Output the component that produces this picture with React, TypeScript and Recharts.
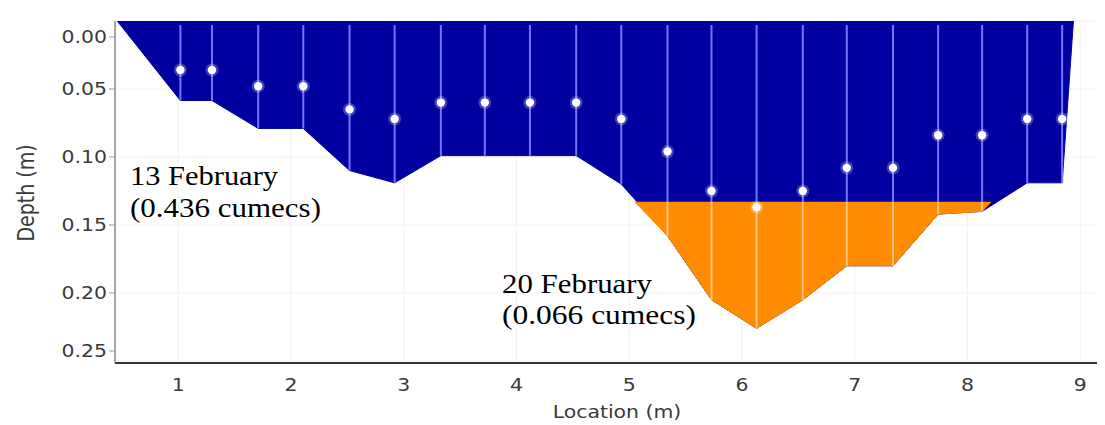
import React from 'react';
import { ComposedChart, Area, Scatter, XAxis, YAxis, ReferenceLine, CartesianGrid } from 'recharts';

// Bed profile on 13 February (location m, depth m)
const bedLocations = [0.46, 1.02, 1.30, 1.71, 2.11, 2.52, 2.92, 3.33, 3.72, 4.12, 4.53, 4.93, 5.34, 5.73, 6.13, 6.54, 6.93, 7.34, 7.74, 8.13, 8.53, 8.84, 8.94];
const bedDepths = [0, 0.0585, 0.0585, 0.079, 0.079, 0.110, 0.119, 0.099, 0.099, 0.099, 0.099, 0.120, 0.158, 0.205, 0.226, 0.205, 0.180, 0.180, 0.142, 0.140, 0.119, 0.119, 0];

// 20 February wetted section
const feb20Surface = 0.133;
const feb20Locations = [5.05, 5.34, 5.73, 6.13, 6.54, 6.93, 7.34, 7.74, 8.13, 8.21];
const feb20Depths = [0.133, 0.158, 0.205, 0.226, 0.205, 0.180, 0.180, 0.142, 0.140, 0.133];

// Measurement verticals and velocity point depths
const verticalLocations = [1.02, 1.30, 1.71, 2.11, 2.52, 2.92, 3.33, 3.72, 4.12, 4.53, 4.93, 5.34, 5.73, 6.13, 6.54, 6.93, 7.34, 7.74, 8.13, 8.53, 8.84];
const verticalBedDepths = [0.0585, 0.0585, 0.079, 0.079, 0.110, 0.119, 0.099, 0.099, 0.099, 0.099, 0.120, 0.158, 0.205, 0.226, 0.205, 0.180, 0.180, 0.142, 0.140, 0.119, 0.119];
const pointDepths = [0.036, 0.036, 0.048, 0.048, 0.065, 0.072, 0.060, 0.060, 0.060, 0.060, 0.072, 0.096, 0.125, 0.137, 0.125, 0.108, 0.108, 0.084, 0.084, 0.072, 0.072];

const xTicks = [1, 2, 3, 4, 5, 6, 7, 8, 9];
const yTicks = [0, 0.05, 0.10, 0.15, 0.20, 0.25];

const annotations = [
  { lines: ['13 February', '(0.436 cumecs)'], widths: [148, 191], x: 122, y: 177, gap: 32 },
  { lines: ['20 February', '(0.066 cumecs)'], widths: [150, 194], x: 494, y: 285, gap: 31 },
];

const W = 1097;
const H = 417;
const PLOT_LEFT = 107;
const AXIS_FONT = 'DejaVu Sans, Verdana, sans-serif';
const STRETCH = 1.2;
const TEXT_COLOR = '#3a3a3a';

const profile13 = bedLocations.map((loc, i) => ({ loc, depth: bedDepths[i] }));
const profile20 = feb20Locations.map((loc, i) => ({ loc, depth: feb20Depths[i] }));
const points = verticalLocations.map((loc, i) => ({ loc, depth: pointDepths[i] }));

const YTick = (props: any) => {
  const { y, payload, index } = props;
  const v = payload.value as number;
  const adj = index === 0 ? 16 : v >= 0.25 ? -10 : 0;
  const yy = y + adj;
  return (
    <g>
      <line x1={PLOT_LEFT - 6} x2={PLOT_LEFT} y1={yy} y2={yy} stroke="#999" strokeWidth={1} />
      <text
        transform={`translate(${PLOT_LEFT - 8},${yy}) scale(${STRETCH},1)`}
        textAnchor="end"
        dy="0.36em"
        fontSize={17}
        fontFamily={AXIS_FONT}
        fill={TEXT_COLOR}
      >
        {v.toFixed(2)}
      </text>
    </g>
  );
};

const XTick = (props: any) => {
  const { x, payload } = props;
  return (
    <text
      transform={`translate(${x},377) scale(${STRETCH},1)`}
      textAnchor="middle"
      dy="0.36em"
      fontSize={17}
      fontFamily={AXIS_FONT}
      fill={TEXT_COLOR}
    >
      {payload.value}
    </text>
  );
};

const Dot = (props: any) => {
  const { cx, cy } = props;
  return (
    <g>
      <circle cx={cx} cy={cy} r={6.5} fill="#ffffff" fillOpacity={0.25} />
      <circle cx={cx} cy={cy} r={4.2} fill="#ffffff" />
    </g>
  );
};

export default function App() {
  return (
    <div style={{ position: 'relative', width: W, height: H }}>
      <ComposedChart width={W} height={H} margin={{ top: 13, right: 0, bottom: 0, left: 0 }}>
        <CartesianGrid stroke="#f1f1f1" horizontalValues={yTicks} verticalValues={xTicks} />
        <XAxis
          dataKey="loc"
          type="number"
          domain={[0.44, 9.22]}
          allowDataOverflow
          ticks={xTicks}
          height={62}
          tickLine={false}
          axisLine={{ stroke: '#333', strokeWidth: 2 }}
          tick={<XTick />}
          interval={0}
        />
        <YAxis
          type="number"
          reversed
          domain={[0, 0.2515]}
          allowDataOverflow
          ticks={yTicks}
          width={107}
          tickLine={false}
          axisLine={{ stroke: '#888', strokeWidth: 1.5 }}
          tick={<YTick />}
          interval={0}
        />
        <Area
          data={profile13}
          dataKey="depth"
          type="linear"
          baseValue={0}
          fill="#0000a0"
          fillOpacity={1}
          stroke="#0000a0"
          strokeWidth={1}
          isAnimationActive={false}
          dot={false}
          activeDot={false}
        />
        <Area
          data={profile20}
          dataKey="depth"
          type="linear"
          baseValue={feb20Surface}
          fill="#ff8c00"
          fillOpacity={1}
          stroke="#ff8c00"
          strokeWidth={1}
          isAnimationActive={false}
          dot={false}
          activeDot={false}
        />
        {verticalLocations.map((loc, i) => (
          <ReferenceLine
            key={'vb' + i}
            segment={[{ x: loc, y: 0.003 }, { x: loc, y: Math.min(verticalBedDepths[i], feb20Surface) }]}
            stroke="#7474ff"
            strokeWidth={2}
          />
        ))}
        {verticalLocations.map((loc, i) =>
          verticalBedDepths[i] > feb20Surface ? (
            <ReferenceLine
              key={'vo' + i}
              segment={[{ x: loc, y: feb20Surface }, { x: loc, y: verticalBedDepths[i] }]}
              stroke="#ffc27a"
              strokeWidth={2}
            />
          ) : null
        )}
        <Scatter data={points} dataKey="depth" shape={<Dot />} isAnimationActive={false} />
      </ComposedChart>
      <svg width={W} height={H} style={{ position: 'absolute', left: 0, top: 0, pointerEvents: 'none' }}>
        {annotations.map((a, i) => (
          <g key={i}>
            {a.lines.map((line, j) => (
              <text
                key={j}
                x={a.x}
                y={a.y + j * a.gap}
                fontSize={28}
                textLength={a.widths[j]}
                lengthAdjust="spacingAndGlyphs"
                fontFamily="Liberation Serif, Times New Roman, serif"
                fill="#000"
              >
                {line}
              </text>
            ))}
          </g>
        ))}
        <text
          transform={`translate(609,404) scale(${STRETCH},1)`}
          textAnchor="middle"
          dy="0.36em"
          fontSize={17}
          fontFamily={AXIS_FONT}
          fill={TEXT_COLOR}
        >
          Location (m)
        </text>
        <text
          transform={`translate(18,185) scale(${STRETCH},1) rotate(-90)`}
          textAnchor="middle"
          dy="0.36em"
          fontSize={19}
          fontFamily={AXIS_FONT}
          fill={TEXT_COLOR}
        >
          Depth (m)
        </text>
      </svg>
    </div>
  );
}
